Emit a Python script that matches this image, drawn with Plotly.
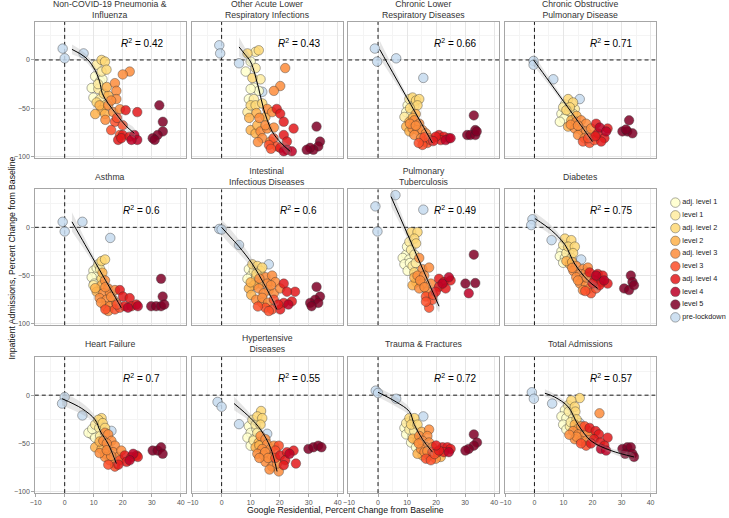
import plotly.graph_objects as go

# ---------------- data ----------------
LEVEL_CODES = ["a1", "l1", "a2", "l2", "a3", "l3", "a4", "l4", "l5", "pre"]
LEVEL_NAMES = ["adj. level 1", "level 1", "adj. level 2", "level 2", "adj. level 3",
               "level 3", "adj. level 4", "level 4", "level 5", "pre-lockdown"]
LEVEL_COLORS = ["#FFFFCC", "#FFEDA0", "#FED976", "#FEB24C", "#FD8D3C",
                "#FC4E2A", "#E31A1C", "#BD0026", "#800026", "#C6DBEF"]
# drawing order: pre-lockdown first, then loosest to strictest level
DRAW_ORDER = ["pre", "a1", "l1", "a2", "l2", "a3", "l3", "a4", "l4", "l5"]

TITLES = ["Non-COVID-19 Pneumonia &<br>Influenza", "Other Acute Lower<br>Respiratory Infections",
          "Chronic Lower<br>Respiratory Diseases", "Chronic Obstructive<br>Pulmonary Disease",
          "Asthma", "Intestinal<br>Infectious Diseases", "Pulmonary<br>Tuberculosis", "Diabetes",
          "Heart Failure", "Hypertensive<br>Diseases", "Trauma & Fractures", "Total Admissions"]
R2 = ["0.42", "0.43", "0.66", "0.71", "0.6", "0.6", "0.49", "0.75", "0.7", "0.55", "0.72", "0.57"]

PNEU_PTS = [(-0.7, 11.8, "pre"), (0, 1.7, "pre"), (6.5, 6.8, "pre"),
            (12.7, 0, "a2"), (13.9, -1.7, "a2"), (11, -5, "l1"), (14.4, -10, "a2"), (12.7, -12, "l1"),
            (10.5, -17, "a1"), (12.2, -22, "a1"), (9.3, -29, "a1"), (11.6, -30, "l1"), (9.9, -39, "a1"),
            (12.2, -40.5, "l1"), (11, -44, "a2"), (13.9, -47, "a2"),
            (22.4, -12, "a3"), (20, -15, "a3"), (17.3, -24, "a3"), (17.8, -32, "a3"), (15, -37, "l2"),
            (17.8, -40.5, "a3"), (15, -47, "a3"), (12.7, -52, "l2"), (10.5, -56, "l2"), (13.9, -56, "l2"),
            (16.7, -54, "a3"), (19, -51, "a3"),
            (17.3, -64, "l3"), (16, -72.6, "l3"), (19, -77.7, "l3"), (20, -67.6, "l3"),
            (21, -52, "a4"), (25, -54, "a4"), (20, -77.7, "a4"), (18.4, -82.8, "a4"), (19.5, -81, "a4"),
            (22.4, -79.4, "a4"),
            (24, -77.7, "l4"), (25, -82.8, "l4"), (23, -82.8, "l4"),
            (32.6, -47, "l5"), (33.8, -64, "l5"), (33.8, -74, "l5"), (32, -77.7, "l5"), (30.3, -81, "l5"),
            (31, -82.8, "l5"),
            (13, -20, "a1"), (11.5, -25, "l1"), (13.5, -35, "a2"), (12, -47, "l2"), (14.5, -28, "l2"),
            (16, -42, "a3"), (14, -62, "a3"), (18, -60, "l3")]
PNEU_FIT_X = [2.5, 7, 10, 12, 13, 15, 18, 21, 24]
PNEU_FIT_Y = [11, 3, -8, -22, -35, -45, -57, -68, -76]
PNEU_FIT_SE = [5, 4, 4, 4, 4, 3, 3, 4, 5]

OALRI_PTS = [(-0.8, 15.2, "pre"), (-0.5, 6.8, "pre"), (6, -3.4, "pre"), (14, -33, "pre"),
             (8.9, 6.8, "a2"), (12.8, 10, "a2"), (11.7, 8.4, "l1"), (10, -1.7, "a1"), (8.3, -12, "a1"),
             (11.7, -8.4, "l1"), (10.6, -18.6, "a2"), (13.4, -20, "l1"), (11.1, -28.7, "a1"),
             (12.8, -32, "a1"), (9.4, -40.5, "a1"), (11.1, -40.5, "l1"), (10, -47, "a2"), (11.7, -47, "a2"),
             (8.9, -54, "l1"),
             (21.9, -8.4, "a3"), (20.2, -27, "a3"), (18, -32, "a3"), (15.7, -50.7, "a3"), (17.4, -54, "a3"),
             (15.1, -59, "l2"), (10, -72.6, "l2"), (11.7, -76, "l2"), (13.4, -74, "a3"), (15.7, -71, "a3"),
             (14, -81, "a3"), (16.8, -84.5, "a3"), (15.1, -67.6, "a3"), (12.3, -67.6, "l2"),
             (17.9, -81, "l3"), (19, -89.5, "l3"), (16.3, -88, "l3"),
             (19, -50.7, "a4"), (20.2, -55.7, "a4"), (21.4, -64, "a4"), (24.8, -71, "a4"), (21.4, -77.7, "a4"),
             (22.5, -84.5, "a4"), (20.2, -91, "a4"),
             (22.5, -93, "l4"), (24.2, -94.6, "l4"), (21.4, -94.6, "l4"),
             (32.7, -69, "l5"), (33.9, -84.5, "l5"), (33.3, -89.5, "l5"), (31.6, -93, "l5"), (30.5, -91, "l5"),
             (29.3, -93, "l5"),
             (12, -55, "l2"), (13, -60, "a3"), (14, -45, "a2"), (9.5, -60, "l2"), (12.5, -85, "a3"),
             (18, -70, "a3"), (17, -92, "l3"), (10, -30, "a1")]
OALRI_FIT_X = [6, 8, 10, 12.8, 14.5, 17.4, 20.5, 23.6]
OALRI_FIT_Y = [13.5, 6, -2, -30, -51, -74, -86, -94.6]
OALRI_FIT_SE = [10, 7, 5, 4, 3, 3, 4, 5]

CLRD_PTS = [(-1.1, 11.8, "pre"), (-0.3, -1.7, "pre"), (6.25, 1.7, "pre"), (15.6, -18.6, "pre"),
            (11.9, -38.9, "a2"), (10.8, -40.5, "l1"), (13.1, -42, "a2"), (10.2, -47, "a1"), (12.5, -47, "l1"),
            (9.7, -54, "a1"), (11.4, -55.7, "a1"), (9.1, -59, "l1"), (14.2, -40.5, "a2"), (13.6, -47, "a2"),
            (10.8, -64, "l2"), (12.5, -62.5, "a3"), (14.2, -66, "a3"), (9.7, -69, "l2"), (11.9, -71, "a3"),
            (13.6, -72.6, "a3"), (15.3, -72.6, "a3"), (16.5, -76, "a3"), (12.5, -77.7, "a3"), (14.8, -81, "a3"),
            (15.9, -84.5, "a3"), (17.6, -81, "a3"), (10.8, -74, "l2"),
            (17, -86, "l3"), (15.3, -88, "l3"), (18.2, -83, "l3"),
            (21, -77.7, "a4"), (22.7, -79.4, "a4"), (24.4, -81, "a4"), (21.6, -83, "a4"), (19.9, -79.4, "a4"),
            (23.3, -83, "l4"), (25, -81, "l4"),
            (33, -57.4, "l5"), (33.5, -72.6, "l5"), (30.7, -77.7, "l5"), (31.8, -77.7, "l5"), (33.5, -77.7, "l5"),
            (34, -74, "l5"),
            (11, -50, "a2"), (13, -56, "l2"), (11, -66, "a3"), (13, -68, "a3"), (16, -80, "l3"),
            (14, -86, "l3"), (12, -60, "l2"), (19, -84, "a4")]
CLRD_FIT_X = [0.6, 5, 10, 15, 18.75]
CLRD_FIT_Y = [10.8, -12.7, -39.3, -66, -86]
CLRD_FIT_SE = [9, 6, 3, 3, 4]

COPD_PTS = [(-0.3, -1, "pre"), (-0.3, -5, "pre"), (6.5, -20, "pre"), (15.6, -40.5, "pre"),
            (11.6, -40.5, "a2"), (13.3, -44, "a2"), (9.9, -49, "l1"), (12.2, -49, "a2"), (13.9, -50.7, "l1"),
            (9.3, -55.7, "a1"), (11, -57.4, "a1"), (13.3, -55.7, "l1"), (10.2, -60.8, "a1"), (8.75, -64, "a1"),
            (12.7, -62.5, "l2"), (14.4, -64, "a3"), (16.1, -62.5, "a3"), (17.8, -66, "a3"), (11.6, -69, "l2"),
            (13.9, -71, "a3"), (16.1, -72.6, "a3"), (17.8, -74, "a3"), (15, -77.7, "a3"), (17.3, -81, "a3"),
            (19, -77.7, "a3"), (19.5, -71, "a3"),
            (16.7, -84.5, "l3"), (19, -86, "l3"), (20.7, -83, "l3"),
            (21.25, -66, "a4"), (25.2, -71, "a4"), (21.8, -76, "a4"), (24.1, -81, "a4"), (23, -84.5, "a4"),
            (22.5, -70, "l4"), (24.7, -74, "l4"),
            (32.6, -62.5, "l5"), (30.3, -74, "l5"), (32, -74, "l5"), (33.75, -76, "l5"), (31.5, -72, "l5"),
            (10.5, -46, "a1"), (12, -53, "l1"), (14.5, -58, "l2"), (12.5, -67, "a3"), (15, -68, "a3"),
            (18.5, -81, "l3"), (21, -79, "a4"), (11, -52, "a2")]
COPD_FIT_X = [-0.3, 5, 10, 15, 20]
COPD_FIT_Y = [0, -22, -42.8, -63.6, -84.5]
COPD_FIT_SE = [6, 4, 3, 2.5, 3]

ASTH_PTS = [(-0.7, 5.7, "pre"), (0, -4.3, "pre"), (6.1, 5.7, "pre"), (15.7, -11, "pre"),
            (12.7, -35, "a2"), (13.9, -33.3, "a2"), (11.6, -38.3, "l1"), (9.9, -45, "a1"), (12.2, -43.3, "l1"),
            (11, -50, "a1"), (9.3, -51.7, "a1"), (10.2, -58.3, "a1"), (12.7, -53.3, "a2"), (9.9, -60, "l1"),
            (13.9, -55, "a3"), (12.7, -60, "l2"), (15, -63.3, "a3"), (11, -66.7, "l2"), (13.3, -68.3, "a3"),
            (15.6, -68.3, "a3"), (17.3, -65, "a3"), (12, -73.3, "a3"), (14.4, -75, "a3"), (16.7, -75, "a3"),
            (13.9, -81.7, "a3"), (15.6, -81.7, "a3"), (17.8, -78.3, "a3"), (15, -86.7, "a3"),
            (17.3, -85, "l3"), (19, -83.3, "l3"),
            (19, -65, "a4"), (20.1, -71.7, "a4"), (22.4, -73.3, "a4"), (20.7, -81.7, "a4"), (23, -81.7, "a4"),
            (24.7, -80, "a4"),
            (21.8, -83.3, "l4"), (25.2, -81.7, "l4"),
            (33.2, -53.3, "l5"), (33.75, -71.7, "l5"), (29.8, -81.7, "l5"), (31.5, -81.7, "l5"),
            (33.2, -81.7, "l5"), (34.3, -80, "l5"),
            (11, -42, "a1"), (13, -47, "l2"), (10.5, -63, "l2"), (14, -62, "a3"), (12.5, -78, "a3"),
            (16, -72, "a3"), (14, -85, "l3"), (18, -80, "l3")]
ASTH_FIT_X = [2.5, 7, 12, 16, 19.5]
ASTH_FIT_Y = [5.7, -17.9, -44.1, -65, -83.3]
ASTH_FIT_SE = [10, 6, 3, 3, 4]

INTEST_PTS = [(-0.8, -1.7, "pre"), (0, -2.3, "pre"), (6, -18.3, "pre"), (16.25, -38.3, "pre"),
              (10.6, -38.3, "a2"), (12.3, -40, "a2"), (9.4, -43.3, "a1"), (11.1, -45, "l1"), (13.4, -45, "a2"),
              (10.2, -50, "a1"), (8.9, -53.3, "a1"), (11.9, -51.7, "l1"), (14, -41.7, "a2"),
              (15.1, -51.7, "a3"), (17.4, -50, "a3"), (18.5, -56.7, "a3"), (15.7, -58.3, "a3"), (13.4, -58.3, "l2"),
              (11.1, -60, "l2"), (9.4, -63.3, "l2"), (12.8, -63.3, "a3"), (16.25, -65, "a3"), (10.2, -70, "l2"),
              (14.5, -68.3, "a3"), (18, -68.3, "a3"), (11.9, -75, "a3"), (14, -78.3, "a3"), (20.2, -63.3, "a3"),
              (15.1, -83.3, "l3"), (17.4, -85, "l3"), (16.25, -86.7, "l3"), (18, -75, "l3"),
              (21.4, -58.3, "a4"), (25.3, -66.7, "a4"), (22.5, -66.7, "a4"), (24.2, -76.7, "a4"),
              (21.4, -78.3, "a4"), (20.2, -85, "a4"),
              (23, -80, "l4"),
              (32.7, -61.7, "l5"), (33.9, -71.7, "l5"), (32.2, -75, "l5"), (30.5, -78.3, "l5"), (33.3, -78.3, "l5"),
              (31, -81.7, "l5"),
              (12, -48, "a2"), (10, -57, "l2"), (13, -53, "a3"), (14, -73, "a3"), (16, -78, "a3"),
              (12.5, -82, "l3"), (17, -60, "a3"), (19.5, -80, "a4")]
INTEST_FIT_X = [0, 3, 6, 10.6, 14.5, 18, 19]
INTEST_FIT_Y = [0, -10, -20, -38, -58, -78, -85]
INTEST_FIT_SE = [8, 8, 7, 5, 3, 4, 5]

TB_PTS = [(-0.9, 21.7, "pre"), (6, 33.3, "pre"), (15.6, 18.3, "pre"), (-0.2, -4.3, "pre"),
          (11.4, -5, "a2"), (13.6, -5, "a2"), (12.5, -11.7, "a2"), (10.8, -15, "l1"), (13.1, -16.7, "a2"),
          (11.4, -23.3, "l1"), (9.7, -28.3, "a1"), (12.5, -28.3, "l1"), (8.5, -31.7, "a1"), (10.8, -33.3, "a1"),
          (9.1, -38.3, "a1"), (11.9, -40, "l1"), (10.2, -45, "a1"), (12.5, -46.7, "a2"),
          (14.2, -31.7, "a3"), (15.3, -43.3, "a3"), (17.6, -41.7, "a3"), (13.6, -50, "a3"), (15.9, -50, "a3"),
          (13.1, -56.7, "l2"), (15.3, -58.3, "a3"), (18.2, -58.3, "a3"), (11.9, -60, "l2"), (14.2, -63.3, "a3"),
          (17, -66.7, "a3"),
          (16.5, -71.7, "l3"), (17.6, -83.3, "l3"), (18.75, -75, "l3"),
          (21, -53.3, "a4"), (22.7, -56.7, "a4"), (25, -55, "a4"), (21, -61.7, "a4"), (23.3, -63.3, "a4"),
          (19.9, -66.7, "a4"),
          (22.2, -58.3, "l4"), (24.4, -51.7, "l4"),
          (33, -28.3, "l5"), (30.1, -58.3, "l5"), (33.5, -57.7, "l5"), (31.25, -68.3, "l4"),
          (11, -37, "a1"), (13, -37, "l1"), (14.5, -55, "a3"), (16, -62, "a3"), (19, -70, "l3"),
          (12.5, -52, "l2"), (16.5, -77, "l3"), (10, -20, "a1")]
TB_FIT_X = [4.5, 9, 13, 17, 21]
TB_FIT_Y = [31.7, 0.8, -26.7, -54.2, -81.7]
TB_FIT_SE = [10, 6, 4, 4, 6]

DIAB_PTS = [(-0.7, 8.3, "pre"), (-1.1, 2.3, "pre"), (5.9, -13.3, "pre"), (16.1, -33.3, "pre"),
            (10.5, -11.7, "a2"), (12.7, -13.3, "a2"), (9.9, -18.3, "l1"), (11.6, -20, "a2"), (13.9, -20, "a2"),
            (9.3, -25, "a1"), (11, -26.7, "l1"), (13.3, -26.7, "a2"), (8.75, -30, "a1"), (10.5, -31.7, "a1"),
            (12.7, -31.7, "l1"), (9.9, -36.7, "a1"),
            (12.2, -38.3, "l2"), (14.4, -40, "a3"), (16.7, -43.3, "a3"), (13.4, -45, "a3"), (15.7, -48.3, "a3"),
            (17.8, -46.7, "a3"), (14.4, -51.7, "a3"), (16.7, -53.3, "a3"), (15.7, -58.3, "a3"), (17.8, -60, "a3"),
            (16.7, -65, "a3"), (19, -63.3, "a3"), (18.4, -41.7, "a3"),
            (19.5, -68.3, "l3"), (21.25, -63.3, "l3"),
            (19, -46.7, "a4"), (21.8, -48.3, "a4"), (23.5, -50, "a4"), (20.7, -55, "a4"), (23, -56.7, "a4"),
            (25.2, -58.3, "a4"), (22.4, -60, "a4"),
            (21.25, -50, "l4"), (24, -55, "l4"),
            (33.2, -50, "l5"), (33.75, -56.7, "l5"), (30.9, -63.3, "l5"), (32.6, -65, "l5"), (34.3, -60, "l5"),
            (11, -35, "l2"), (13, -36, "l2"), (15, -55, "a3"), (13, -42, "a3"), (18, -52, "a3"),
            (17.5, -66, "l3"), (20, -58, "a4"), (12, -24, "a1")]
DIAB_FIT_X = [0.2, 5.9, 10.5, 13.9, 18.4, 21.8]
DIAB_FIT_Y = [9, -3.3, -18, -38, -55, -63.3]
DIAB_FIT_SE = [6, 5, 3, 3, 3, 4]

HF_PTS = [(0, -2, "pre"), (-0.9, -8.7, "pre"), (6.1, -21, "pre"), (16.1, -37, "pre"),
          (12.7, -23.8, "a2"), (11.6, -25.5, "a2"), (10.5, -30.5, "l1"), (13.1, -28.9, "a2"), (11.9, -33.9, "l1"),
          (13.9, -33.9, "a2"), (9.3, -40.6, "a1"), (11, -37.2, "a1"), (8.2, -38.9, "a1"), (10.5, -44, "a1"),
          (12.2, -42.3, "l1"),
          (13.9, -38.9, "a3"), (15, -40.6, "a3"), (13.3, -47.3, "a3"), (16.1, -47.3, "a3"), (10.5, -54, "l2"),
          (12.7, -55.7, "l2"), (15, -54, "a3"), (17.3, -52.3, "a3"), (13.9, -60.7, "a3"), (16.7, -59, "a3"),
          (15.5, -67.4, "a3"), (17.3, -70.8, "a3"), (18.4, -64, "a3"), (19.5, -57.4, "a3"), (13.9, -64, "a3"),
          (19, -67.4, "l3"), (17.3, -74, "l3"),
          (20.7, -62.4, "a4"), (23, -64, "a4"), (24.8, -62.4, "a4"), (21.3, -69, "a4"), (25.2, -64, "a4"),
          (23.6, -60.7, "l4"), (22.4, -67.4, "l4"),
          (30.3, -57.4, "l5"), (32, -57.4, "l5"), (33.2, -54, "l5"), (33.75, -60.7, "l5"),
          (12, -48, "l2"), (14.5, -50, "a3"), (12, -60, "a3"), (16, -63, "a3"), (15, -72, "l3"),
          (18.5, -72, "a4"), (9.5, -35, "a1"), (14.5, -57, "a3")]
HF_FIT_X = [-0.9, 5.9, 10.5, 12.2, 15, 17.8]
HF_FIT_Y = [-3.7, -13.8, -25.5, -37, -50.7, -70.8]
HF_FIT_SE = [7, 6, 4, 3, 3, 4]

HTN_PTS = [(-1.4, -7, "pre"), (0, -12, "pre"), (6, -30, "pre"), (15.7, -40, "pre"),
           (13.6, -16.4, "a2"), (12.3, -22, "a2"), (10.6, -25.5, "l1"), (14, -23.8, "a2"), (9.4, -32.2, "a1"),
           (11.7, -30.5, "l1"), (13.4, -30.5, "a2"), (10, -39, "a1"), (12.3, -39, "l1"), (8.9, -44, "a1"),
           (11.1, -45.6, "a1"), (10, -52.3, "a1"),
           (13.4, -42.3, "a3"), (15.1, -45.6, "a3"), (12.8, -49, "l2"), (15.7, -50.7, "a3"), (11.7, -54, "l2"),
           (14, -55.7, "a3"), (16.8, -55.7, "a3"), (12.3, -60.7, "a3"), (14.5, -62.4, "a3"), (17.4, -64, "a3"),
           (15.1, -69, "a3"), (17.4, -74, "a3"), (19.7, -79, "a3"), (19.1, -70.8, "a3"), (18, -52.3, "a3"),
           (19.7, -52.3, "l3"), (18.5, -57.4, "l3"),
           (20.2, -62.4, "a4"), (22.5, -59, "a4"), (24.8, -57.4, "a4"), (21.9, -67.4, "a4"), (25.6, -70.8, "a4"),
           (21.4, -72.5, "a4"),
           (23.4, -60.7, "l4"),
           (29.9, -55.7, "l5"), (31.6, -54, "l5"), (33.3, -52.3, "l5"), (34.4, -54, "l5"),
           (12, -35, "a1"), (13, -52, "l2"), (15, -59, "a3"), (16, -65, "a3"), (16.5, -77, "a3"),
           (13, -65, "a3"), (18.5, -65, "l3"), (11, -47, "l1")]
HTN_FIT_X = [4.3, 10, 13.4, 16.8, 19.1]
HTN_FIT_Y = [-8.7, -23.8, -35.6, -54, -79]
HTN_FIT_SE = [7, 4, 3, 3, 5]

TRAUMA_PTS = [(-0.8, 4.7, "pre"), (0, 2.3, "pre"), (6.25, -3.7, "pre"), (15.6, -22, "pre"),
              (10.8, -23.8, "a2"), (12.5, -23.8, "a2"), (9.7, -28.9, "l1"), (11.4, -30.5, "a2"),
              (13.6, -30.5, "a2"), (9.1, -33.9, "a1"), (10.8, -35.6, "l1"), (12.5, -37.2, "l1"),
              (9.7, -40.6, "a1"), (11.9, -42.3, "a1"), (13.6, -47.3, "l2"), (11.4, -49, "a1"), (13.1, -54, "a1"),
              (17.6, -35.6, "a3"), (14.2, -42.3, "a3"), (17, -42.3, "a3"), (15.3, -47.3, "a3"), (17.6, -49, "a3"),
              (16.5, -54, "a3"), (14.8, -55.7, "a3"), (18.75, -54, "a3"), (15.3, -62.4, "l2"), (17.6, -62.4, "a3"),
              (19.9, -65.8, "a3"), (21.6, -64, "l2"), (13.6, -60.7, "l2"),
              (18.75, -59, "l3"), (16.5, -65.8, "l3"), (18.2, -67.4, "l3"), (20.5, -59, "l3"),
              (22.2, -54, "a4"), (23.9, -54, "a4"), (25, -55.7, "a4"), (22.7, -59, "a4"), (21, -57.4, "a4"),
              (24.4, -59, "l4"),
              (33, -40.6, "l5"), (34.1, -49, "l5"), (33, -52.3, "l5"), (31.25, -55.7, "l5"), (30.1, -57.4, "l5"),
              (12, -45, "l2"), (15, -38, "l2"), (16, -59, "a3"), (14, -50, "a3"), (19.5, -61, "l3"),
              (17, -58, "a3"), (11, -27, "a1"), (20, -52, "a4")]
TRAUMA_FIT_X = [0, 6.25, 10.8, 12.5, 15.3, 18.75]
TRAUMA_FIT_Y = [3, -7, -17, -30.5, -45.6, -59]
TRAUMA_FIT_SE = [5, 5, 4, 3, 3, 4]

TOTAL_PTS = [(-0.9, 3, "pre"), (-0.2, -3.7, "pre"), (6.1, -8.7, "pre"), (15.6, -28.9, "pre"),
             (15.6, -3, "a2"), (12.7, -5.4, "a2"), (11.6, -10.4, "l1"), (13.9, -12, "a2"), (10.5, -15.4, "a1"),
             (11.8, -17, "l1"), (14.1, -17, "a2"), (9.3, -22, "a1"), (11, -23.8, "a1"), (13.3, -23.8, "l1"),
             (9.9, -30.5, "a1"), (12.2, -32.2, "l1"), (11, -35.6, "a1"),
             (22.4, -18.8, "a3"), (13.9, -30.5, "l2"), (16.1, -32.2, "a3"), (13.3, -37.2, "a3"), (15, -40.6, "a3"),
             (17.3, -40.6, "a3"), (13.9, -45.6, "a3"), (16.1, -47.3, "a3"), (17.8, -47.3, "a3"),
             (19.5, -42.3, "a3"),
             (17.3, -32.2, "l3"), (17.8, -52.3, "l3"),
             (19, -33.9, "a4"), (21.1, -37.2, "a4"), (22.2, -40.6, "a4"), (25.2, -44, "a4"), (20.5, -45.6, "a4"),
             (22.7, -49, "a4"), (24.1, -52.3, "a4"),
             (22.9, -55.7, "l4"), (24.7, -57.4, "l4"),
             (30.3, -55.7, "l5"), (32, -54, "l5"), (33.2, -54, "l5"), (31.25, -60.7, "l5"), (33.75, -60.7, "l5"),
             (34.3, -64, "l5"),
             (12.5, -28, "l1"), (14.5, -25, "a2"), (15, -35, "l2"), (14.5, -43, "a3"), (18.5, -37, "a3"),
             (16, -50, "l3"), (19.5, -50, "a4"), (12, -41, "a3")]
TOTAL_FIT_X = [3.6, 7, 11.6, 15, 19.5, 26.4, 34.3]
TOTAL_FIT_Y = [2, -2, -12, -30.5, -47.3, -57.4, -64]
TOTAL_FIT_SE = [4, 3, 3, 2.5, 2.5, 2.5, 3]

PANELS = [
    (PNEU_PTS, PNEU_FIT_X, PNEU_FIT_Y, PNEU_FIT_SE),
    (OALRI_PTS, OALRI_FIT_X, OALRI_FIT_Y, OALRI_FIT_SE),
    (CLRD_PTS, CLRD_FIT_X, CLRD_FIT_Y, CLRD_FIT_SE),
    (COPD_PTS, COPD_FIT_X, COPD_FIT_Y, COPD_FIT_SE),
    (ASTH_PTS, ASTH_FIT_X, ASTH_FIT_Y, ASTH_FIT_SE),
    (INTEST_PTS, INTEST_FIT_X, INTEST_FIT_Y, INTEST_FIT_SE),
    (TB_PTS, TB_FIT_X, TB_FIT_Y, TB_FIT_SE),
    (DIAB_PTS, DIAB_FIT_X, DIAB_FIT_Y, DIAB_FIT_SE),
    (HF_PTS, HF_FIT_X, HF_FIT_Y, HF_FIT_SE),
    (HTN_PTS, HTN_FIT_X, HTN_FIT_Y, HTN_FIT_SE),
    (TRAUMA_PTS, TRAUMA_FIT_X, TRAUMA_FIT_Y, TRAUMA_FIT_SE),
    (TOTAL_PTS, TOTAL_FIT_X, TOTAL_FIT_Y, TOTAL_FIT_SE),
]

# ---------------- layout geometry (pixels) ----------------
W, H = 729, 518
COLS = [(30, 182), (188, 340), (345.5, 497.5), (503, 655)]
ROWS = [(22, 158.5), (190, 326.5), (358.5, 495)]
STRIP_Y = [10, 177.5, 345]
XR = [-10.3, 41.7]
YR = [-101.4, 39.4]
FONT = "Liberation Sans, Arial, sans-serif"
color_of = dict(zip(LEVEL_CODES, LEVEL_COLORS))
rank = {code: n for n, code in enumerate(DRAW_ORDER)}
DASH = dict(color="black", width=0.9, dash="4px,3px")

fig = go.Figure()
layout = dict(width=W, height=H, margin=dict(l=0, r=0, t=0, b=0),
              paper_bgcolor="white", plot_bgcolor="white", showlegend=False,
              font=dict(family=FONT, color="#222"))
annotations = []

for i, (pts, fx, fy, se) in enumerate(PANELS):
    r, c = divmod(i, 4)
    k = "" if i == 0 else str(i + 1)
    xa, ya = "x" + k, "y" + k
    x0, x1 = COLS[c]
    y0, y1 = ROWS[r]
    bottom = (r == 2)
    left = (c == 0)
    layout["xaxis" + k] = dict(
        domain=[x0 / W, x1 / W], range=XR, anchor=ya, tickmode="linear", tick0=0, dtick=10,
        showgrid=True, gridcolor="#e6e6e6", gridwidth=0.8, zeroline=False,
        minor=dict(dtick=5, tick0=0, showgrid=True, gridcolor="#f4f4f4", gridwidth=0.6),
        showline=True, mirror=True, linecolor="#a6a6a6", linewidth=1,
        showticklabels=bottom, ticks="outside" if bottom else "", ticklen=2.5, tickcolor="#a6a6a6",
        tickfont=dict(size=7, color="#555"), fixedrange=True)
    layout["yaxis" + k] = dict(
        domain=[1 - y1 / H, 1 - y0 / H], range=YR, anchor=xa, tickmode="linear", tick0=0, dtick=50,
        showgrid=True, gridcolor="#e6e6e6", gridwidth=0.8, zeroline=False,
        minor=dict(dtick=25, tick0=0, showgrid=True, gridcolor="#f4f4f4", gridwidth=0.6),
        showline=True, mirror=True, linecolor="#a6a6a6", linewidth=1,
        showticklabels=left, ticks="outside" if left else "", ticklen=2.5, tickcolor="#a6a6a6",
        tickfont=dict(size=7, color="#555"), fixedrange=True)

    # dashed reference lines at zero (spanning the full axis ranges)
    fig.add_trace(go.Scatter(x=[0, 0], y=YR, xaxis=xa, yaxis=ya, mode="lines", line=DASH,
                             hoverinfo="skip"))
    fig.add_trace(go.Scatter(x=XR, y=[0, 0], xaxis=xa, yaxis=ya, mode="lines", line=DASH,
                             hoverinfo="skip"))

    # points (stricter levels drawn on top)
    spts = sorted(pts, key=lambda p: rank[p[2]])
    fig.add_trace(go.Scatter(
        x=[p[0] for p in spts], y=[p[1] for p in spts], xaxis=xa, yaxis=ya, mode="markers",
        marker=dict(size=9.5, color=[color_of[p[2]] for p in spts], opacity=0.85,
                    line=dict(color="rgba(40,40,40,0.75)", width=0.6)),
        hoverinfo="skip"))

    # confidence band
    up = [yv + s for yv, s in zip(fy, se)]
    lo = [yv - s for yv, s in zip(fy, se)]
    fig.add_trace(go.Scatter(
        x=list(fx) + list(fx)[::-1], y=up + lo[::-1], xaxis=xa, yaxis=ya, mode="lines",
        fill="toself", fillcolor="rgba(160,160,160,0.28)", line=dict(width=0, shape="spline"),
        hoverinfo="skip"))
    # fitted line
    fig.add_trace(go.Scatter(
        x=fx, y=fy, xaxis=xa, yaxis=ya, mode="lines",
        line=dict(color="black", width=1, shape="spline"), hoverinfo="skip"))

    # strip title
    annotations.append(dict(text=TITLES[i], xref="paper", yref="paper",
                            x=(x0 + x1) / 2 / W, y=1 - STRIP_Y[r] / H, xanchor="center", yanchor="middle",
                            showarrow=False, font=dict(size=8.7, color="#333")))
    # R^2
    annotations.append(dict(text="<i>R</i><sup>2</sup> = " + R2[i], xref=xa, yref=ya, x=26.5, y=18,
                            xanchor="center", yanchor="middle", showarrow=False,
                            font=dict(size=10, color="black")))

# axis titles
annotations.append(dict(text="Google Residential, Percent Change from Baseline", xref="paper", yref="paper",
                        x=(COLS[0][0] + COLS[3][1]) / 2 / W, y=1 - 512 / H, xanchor="center", yanchor="middle",
                        showarrow=False, font=dict(size=8.7, color="#111")))
annotations.append(dict(text="Inpatient Admissions, Percent Change from Baseline", xref="paper", yref="paper",
                        x=7 / W, y=1 - (ROWS[0][0] + ROWS[2][1]) / 2 / H, xanchor="center", yanchor="middle",
                        textangle=-90, showarrow=False, font=dict(size=8.7, color="#111")))

# manual legend on its own hidden axes
layout["xaxis13"] = dict(domain=[660 / W, 1], range=[0, 69], visible=False, fixedrange=True, anchor="y13")
layout["yaxis13"] = dict(domain=[1 - 325 / H, 1 - 197 / H], range=[9.5, -0.5], visible=False,
                         fixedrange=True, anchor="x13")
fig.add_trace(go.Scatter(
    x=[15] * len(LEVEL_NAMES), y=list(range(len(LEVEL_NAMES))), xaxis="x13", yaxis="y13",
    mode="markers+text", text=LEVEL_NAMES, textposition="middle right", cliponaxis=False,
    textfont=dict(size=7.3, color="#222"),
    marker=dict(size=9.5, color=LEVEL_COLORS, opacity=0.85, line=dict(color="rgba(40,40,40,0.75)", width=0.6)),
    hoverinfo="skip"))

layout["annotations"] = annotations
fig.update_layout(**layout)
fig.write_html("out.html", include_plotlyjs=True, config={"displayModeBar": False},
               post_script="document.body.style.margin='0';document.body.style.overflow='hidden';")
